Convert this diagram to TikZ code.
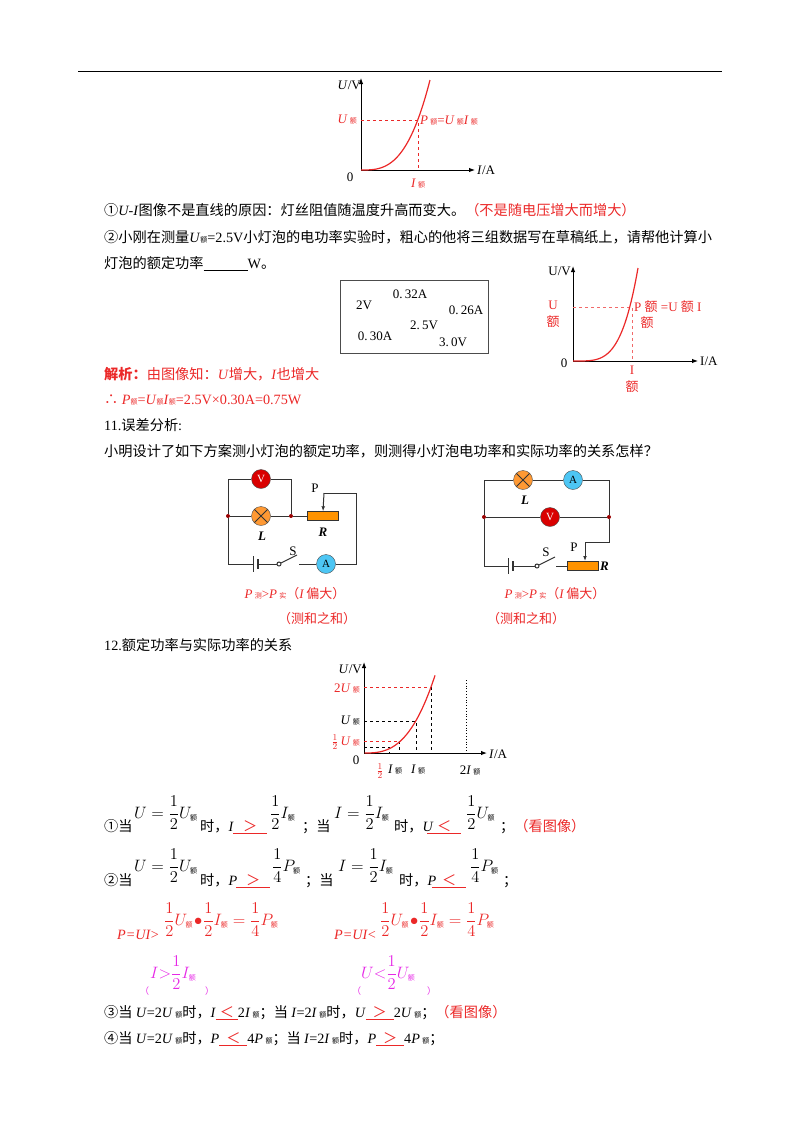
\RequirePackage{fix-cm}
\documentclass[tikz,border=0pt]{standalone}
\usepackage{amsmath}
\usepackage{fontspec}
\setmainfont{Liberation Serif}
\newfontfamily\cjk{Noto Sans CJK SC}
\usetikzlibrary{arrows.meta,positioning}
\definecolor{ered}{RGB}{235,40,40}
\definecolor{emag}{RGB}{230,40,230}
\newcommand{\e}{{\cjk\fontsize{7}{7}\selectfont 额}}
\newcommand{\me}{_{\mbox{\e}}}
\begin{document}
\begin{tikzpicture}[x=1pt,y=-1pt,
  txt/.style={anchor=base west,inner sep=0pt,font=\fontsize{14.2}{17}\selectfont},
  frm/.style={anchor=base west,inner sep=0pt,font=\fontsize{16.5}{19}\selectfont},
  lbl/.style={inner sep=0pt,font=\fontsize{13}{15}\selectfont},
  axis/.style={-{Latex[length=6pt]},line width=1pt},
  guide/.style={dashed,line width=0.6pt},
  curve/.style={ered,line width=1.2pt},
  wire/.style={line width=1pt,draw=black!80},
  meterV/.style={circle,draw=black!70,fill=red!85!black,text=white,minimum size=19pt,inner sep=0pt,font=\fontsize{11}{11}\selectfont},
  meterA/.style={circle,draw=black!70,fill=cyan!70,minimum size=19pt,inner sep=0pt,font=\fontsize{11}{11}\selectfont},
  lamp/.style={circle,draw=black!70,fill=orange!80,minimum size=19pt,inner sep=0pt,
    path picture={\draw[black!80,line width=0.8pt] (path picture bounding box.north west)--(path picture bounding box.south east)
      (path picture bounding box.north east)--(path picture bounding box.south west);}},
  rheo/.style={rectangle,draw=black!80,fill=orange!85!yellow,minimum width=31pt,minimum height=9pt,inner sep=0pt},
  jn/.style={circle,fill=red!60!black,minimum size=4pt,inner sep=0pt}]
\useasboundingbox (0,0) rectangle (800,1132);
\draw[line width=1pt] (78,72) -- (722,72);

% graph 1
\coordinate (o1) at (361,170);
\draw[axis] (o1) -- (361,78);
\draw[axis] (o1) -- (475,170);
\draw[guide,ered] (361,120) -- (418,120) -- (418,170);
\draw[curve] plot[domain=0:69,samples=40] ({361+\x},{170-90*(\x/69)^3});
\node[lbl,left] (uv1) at (361,85) {\textit{U}/V};
\node[lbl,left,ered] (ue1) at (357,120) {\textit{U}\,\e};
\node[lbl,right,ered] (pe1) at (420,121) {\textit{P}\,\e=\textit{U}\,\e\textit{I}\,\e};
\node[lbl,ered] (ie1) at (418,184) {\textit{I}\,\e};
\node[lbl] (z1) at (350,177) {0};
\node[lbl,right] (ia1) at (477,170) {\textit{I}/A};

\node[txt] (l1) at (104,215) {{\cjk ①}\textit{U-I}{\cjk 图像不是直线的原因：灯丝阻值随温度升高而变大。}\textcolor{ered}{\cjk（不是随电压增大而增大）}};
\node[txt] (l2) at (104,242) {{\cjk ②小刚在测量}\textit{U}\e=2.5V{\cjk 小灯泡的电功率实验时，粗心的他将三组数据写在草稿纸上，请帮他计算小}};
\node[txt] (l3) at (104,268) {{\cjk 灯泡的额定功率}\underline{\hspace{44pt}}W{\cjk 。}};

% data box
\draw[line width=0.8pt,black!70] (340,280) rectangle (488,353);
\begin{scope}[every node/.style={lbl,font=\fontsize{13}{15}\selectfont}]
\node (d1) at (364,305) {2V};
\node (d2) at (410,294) {0.\,32A};
\node (d3) at (466,310) {0.\,26A};
\node (d4) at (424,325) {2.\,5V};
\node (d5) at (375,336) {0.\,30A};
\node (d6) at (453,342) {3.\,0V};
\end{scope}

% graph 2
\coordinate (o2) at (573,361);
\draw[axis] (o2) -- (573,266);
\draw[axis] (o2) -- (698,361);
\draw[guide,ered!70] (573,307) -- (632,307) -- (632,361);
\draw[curve] plot[domain=0:65,samples=40] ({573+\x},{361-93*(\x/65)^4});
\node[lbl,left] (uv2) at (571,271) {U/V};
\node[lbl,ered] (ue2) at (553,305) {U};
\node[lbl,ered] (ue2b) at (553,322) {\cjk 额};
\node[lbl,right,ered] (pe2) at (634,307) {P {\cjk 额} =U {\cjk 额} I};
\node[lbl,ered] (pe2b) at (647,323) {\cjk 额};
\node[lbl] (z2) at (564,363) {0};
\node[lbl,ered] (ie2) at (632,370) {I};
\node[lbl,ered] (ie2b) at (632,387) {\cjk 额};
\node[lbl,right] (ia2) at (700,361) {I/A};

\node[txt,ered] (l4) at (104,379) {{\cjk\bfseries 解析：}{\cjk 由图像知：}\textit{U}{\cjk 增大，}\textit{I}{\cjk 也增大}};
\node[txt,ered] (l5) at (104,404) {{\cjk ∴} \textit{P}\e=\textit{U}\e\textit{I}\e=2.5V×0.30A=0.75W};
\node[txt] (l6) at (104,430) {11.{\cjk 误差分析}:};
\node[txt] (l7) at (104,456) {\cjk 小明设计了如下方案测小灯泡的额定功率，则测得小灯泡电功率和实际功率的关系怎样？};

% circuit 1
\node[meterV] (v1) at (261,479) {V};
\node[lamp] (lp1) at (261,516) {};
\node[jn] (ja) at (228,516) {};
\node[jn] (jb) at (291,516) {};
\node[rheo] (r1) at (323,516) {};
\node[meterA] (a1) at (326,564) {A};
\coordinate (tl1) at (228,479);
\coordinate (tr1) at (291,479);
\coordinate (bl1) at (228,564);
\coordinate (br1) at (356,564);
\coordinate (pt1) at (324,493);
\coordinate (pr1) at (356,493);
\draw[wire] (ja) -- (tl1) -- (v1) -- (tr1) -- (jb);
\draw[wire] (ja) -- (lp1) -- (jb) -- (r1);
\draw[wire] (ja) -- (bl1) -- (253,564);
\draw[wire] (253,556) -- (253,572);
\draw[wire,line width=2pt] (258,559) -- (258,569);
\draw[wire] (258,564) -- (277,564);
\draw[wire] (279,564) circle (2pt);
\draw[wire] (281,563) -- (297,555);
\draw[wire] (299,564) -- (a1) -- (br1) -- (pr1) -- (pt1);
\draw[wire,-{Latex[length=5pt]}] (pt1) -- (r1.north);
\node[lbl] (pl1) at (315,488) {P};
\node[lbl] (sl1) at (293,551) {S};
\node[lbl] (ll1) at (262,536) {\textit{\textbf{L}}};
\node[lbl] (rl1) at (323,532) {\textit{\textbf{R}}};
\node[lbl,ered] (c1a) at (295,594) {\textit{P}\,{\cjk\fontsize{7}{7}\selectfont 测}>\textit{P}\,{\cjk\fontsize{7}{7}\selectfont 实}{\cjk（}\textit{I}\,{\cjk 偏大）}};
\node[lbl,ered] (c1b) at (317,619) {\cjk（测和之和）};

% circuit 2
\node[lamp] (lp2) at (523,480) {};
\node[meterA] (a2) at (573,480) {A};
\node[meterV] (v2) at (550,517) {V};
\node[jn] (jc) at (484,517) {};
\node[jn] (jd) at (609,517) {};
\node[rheo] (r2) at (583,566) {};
\coordinate (tl2) at (484,480);
\coordinate (tr2) at (609,480);
\coordinate (bl2) at (484,566);
\coordinate (rr2) at (609,542);
\coordinate (pp2) at (585,542);
\draw[wire] (jc) -- (tl2) -- (lp2) -- (a2) -- (tr2) -- (jd);
\draw[wire] (jc) -- (v2) -- (jd) -- (rr2) -- (pp2);
\draw[wire,-{Latex[length=5pt]}] (pp2) -- (585,561);
\draw[wire] (jc) -- (bl2) -- (508,566);
\draw[wire] (508,558) -- (508,574);
\draw[wire,line width=2pt] (513,561) -- (513,571);
\draw[wire] (513,566) -- (535,566);
\draw[wire] (537,566) circle (2pt);
\draw[wire] (539,565) -- (555,557);
\draw[wire] (556,566) -- (r2);
\node[lbl] (pl2) at (574,547) {P};
\node[lbl] (sl2) at (546,552) {S};
\node[lbl] (ll2) at (525,500) {\textit{\textbf{L}}};
\node[lbl,right] (rl2) at (600,566) {\textit{\textbf{R}}};
\node[lbl,ered] (c2a) at (555,594) {\textit{P}\,{\cjk\fontsize{7}{7}\selectfont 测}>\textit{P}\,{\cjk\fontsize{7}{7}\selectfont 实}{\cjk（}\textit{I}\,{\cjk 偏大）}};
\node[lbl,ered] (c2b) at (526,619) {\cjk（测和之和）};

\node[txt] (l8) at (104,650) {12.{\cjk 额定功率与实际功率的关系}};

% graph 3
\coordinate (o3) at (364,753);
\draw[axis] (o3) -- (364,662);
\draw[axis] (o3) -- (487,753);
\draw[guide,ered] (364,687) -- (431,687);
\draw[guide,line width=1pt] (431,687) -- (431,753);
\draw[guide] (364,721) -- (416,721) -- (416,753);
\draw[guide,ered] (364,741) -- (399,741);
\draw[guide] (399,741) -- (399,753);
\draw[guide] (364,747) -- (389,747) -- (389,753);
\draw[dotted,line width=0.8pt] (466,680) -- (466,753);
\draw[curve] plot[domain=0.5:71,samples=50] ({364+\x},{753-66*exp(2.8*ln(\x/67))});
\node[lbl,left] (uv3) at (362,669) {\textit{U}/V};
\node[lbl,left,ered] (u3a) at (360,688) {2\textit{U}\,\e};
\node[lbl,left] (u3b) at (360,721) {\textit{U}\,\e};
\node[lbl,left,ered] (u3c) at (360,742) {$\frac12$\,\textit{U}\,\e};
\node[lbl] (z3) at (356,760) {0};
\node[lbl,ered] (i3a) at (380,771) {$\frac12$};
\node[lbl] (i3b) at (395,770) {\textit{I}\,\e};
\node[lbl] (i3c) at (418,770) {\textit{I}\,\e};
\node[lbl] (i3d) at (470,770) {2\textit{I}\,\e};
\node[lbl,right] (ia3) at (489,754) {\textit{I}/A};

% relations
\node[txt] (r1a) at (104,831) {\cjk ①当};
\node[frm] (r1b) at (134,818) {$U=\dfrac12U\me$};
\node[txt] (r1c) at (200,831) {{\cjk 时，}\textit{I}};
\node[txt] (r1d) at (233,831) {\textcolor{ered}{\underline{\makebox[34pt]{\cjk ＞}}}};
\node[frm] (r1e) at (270,818) {$\dfrac12I\me$};
\node[txt] (r1f) at (302,831) {\cjk ；当};
\node[frm] (r1g) at (334,818) {$I=\dfrac12I\me$};
\node[txt] (r1h) at (394,831) {{\cjk 时，}\textit{U}};
\node[txt] (r1i) at (427,831) {\textcolor{ered}{\underline{\makebox[34pt]{\cjk ＜}}}};
\node[frm] (r1j) at (466,818) {$\dfrac12U\me$};
\node[txt] (r1k) at (500,831) {{\cjk ；}\textcolor{ered}{\cjk（看图像）}};

\node[txt] (r2a) at (104,885) {\cjk ②当};
\node[frm] (r2b) at (134,871) {$U=\dfrac12U\me$};
\node[txt] (r2c) at (200,885) {{\cjk 时，}\textit{P}};
\node[txt] (r2d) at (236,885) {\textcolor{ered}{\underline{\makebox[34pt]{\cjk ＞}}}};
\node[frm] (r2e) at (272,871) {$\dfrac14P\me$};
\node[txt] (r2f) at (305,885) {\cjk ；当};
\node[frm] (r2g) at (338,871) {$I=\dfrac12I\me$};
\node[txt] (r2h) at (399,885) {{\cjk 时，}\textit{P}};
\node[txt] (r2i) at (432,885) {\textcolor{ered}{\underline{\makebox[34pt]{\cjk ＜}}}};
\node[frm] (r2j) at (470,871) {$\dfrac14P\me$};
\node[txt] (r2k) at (503,885) {\cjk ；};

\node[txt,ered] (r3a) at (117,939) {\textit{P=UI}>};
\node[frm,ered] (r3b) at (164,925) {$\dfrac12U\me\!\bullet\!\dfrac12I\me=\dfrac14P\me$};
\node[txt,ered] (r3c) at (334,939) {\textit{P=UI}<};
\node[frm,ered] (r3d) at (380,925) {$\dfrac12U\me\!\bullet\!\dfrac12I\me=\dfrac14P\me$};

\node[txt,emag] (r4a) at (140,994) {\cjk\fontsize{9}{9}\selectfont （};
\node[frm,emag] (r4b) at (150,978) {$I{>}\dfrac12I\me$};
\node[txt,emag] (r4c) at (205,994) {\cjk\fontsize{9}{9}\selectfont ）};
\node[txt,emag] (r4d) at (352,994) {\cjk\fontsize{9}{9}\selectfont （};
\node[frm,emag] (r4e) at (361,978) {$U{<}\dfrac12U\me$};
\node[txt,emag] (r4f) at (427,994) {\cjk\fontsize{9}{9}\selectfont ）};

\node[txt] (r5) at (104,1017) {{\cjk ③当 }\textit{U}=2\textit{U}\,\e{\cjk 时，}\textit{I}\textcolor{ered}{\underline{\makebox[22pt]{\cjk ＜}}}2\textit{I}\,\e{\cjk ；当 }\textit{I}=2\textit{I}\,\e{\cjk 时，}\textit{U}\textcolor{ered}{\underline{\makebox[28pt]{\cjk ＞}}}2\textit{U}\,\e{\cjk ；}\textcolor{ered}{\cjk（看图像）}};
\node[txt] (r6) at (104,1043) {{\cjk ④当 }\textit{U}=2\textit{U}\,\e{\cjk 时，}\textit{P}\textcolor{ered}{\underline{\makebox[28pt]{\cjk ＜}}}4\textit{P}\,\e{\cjk ；当 }\textit{I}=2\textit{I}\,\e{\cjk 时，}\textit{P}\textcolor{ered}{\underline{\makebox[28pt]{\cjk ＞}}}4\textit{P}\,\e{\cjk ；}};
\end{tikzpicture}
\end{document}
